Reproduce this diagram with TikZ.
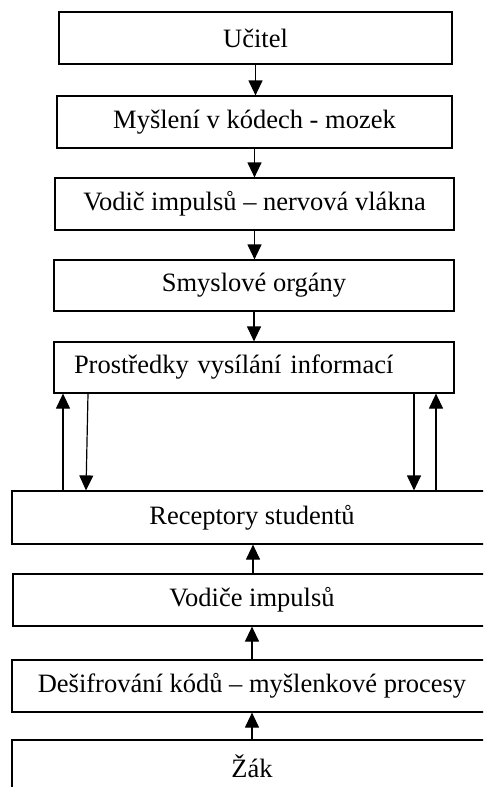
\documentclass[tikz,border=0pt]{standalone}
\usepackage{fontspec}
\setmainfont{Liberation Serif}
\usetikzlibrary{arrows.meta}

\tikzset{
  box/.style={draw, line width=1.2pt, minimum height=52pt, inner sep=0pt,
    font=\fontsize{26.5}{30}\selectfont},
  arr/.style={line width=1.2pt, -{Triangle[length=15pt,width=14pt]}}
}

\begin{document}
\begin{tikzpicture}[x=1pt,y=-1pt]
   \clip (0,0) rectangle (483,787);
   \useasboundingbox (0,0) rectangle (483,787);

   % teacher side
   \node[box, minimum width=393pt] (ucitel) at (255.5,38) {Učitel};
   \node[box, minimum width=395pt] (mozek) at (254.5,122) {Myšlení v kódech - mozek};
   \node[box, minimum width=399pt] (vodic) at (254.5,204) {Vodič impulsů – nervová vlákna};
   \node[box, minimum width=400pt, minimum height=51pt] (organy) at (254,285.5) {Smyslové orgány};
   \node[box, text width=360pt, align=left, inner xsep=20pt, minimum height=51pt]
     (prostredky) at (254,367.5) {Prostředky vysílání informací};

   % student side
   \node[box, minimum width=480pt, minimum height=53pt] (receptory) at (252,517.5) {Receptory studentů};
   \node[box, minimum width=478pt] (vodice) at (252,600) {Vodiče impulsů};
   \node[box, minimum width=480pt] (desifr) at (252,686) {Dešifrování kódů – myšlenkové procesy};
   \node[box, minimum width=480pt] (zak) at (252,766) {Žák};

   \draw[arr] (ucitel.south) -- (ucitel.south |- mozek.north);
   \draw[arr] (mozek.south) -- (mozek.south |- vodic.north);
   \draw[arr] (vodic.south) -- (vodic.south |- organy.north);
   \draw[arr] (organy.south) -- (organy.south |- prostredky.north);

   \coordinate (lu) at (63,0);
   \coordinate (ld) at (86,0);
   \coordinate (rd) at (414,0);
   \coordinate (ru) at (436,0);
   \draw[arr] (receptory.north -| lu) -- (prostredky.south -| lu);
   \draw[arr] ([xshift=2pt]prostredky.south -| ld) -- (receptory.north -| ld);
   \draw[arr] (prostredky.south -| rd) -- (receptory.north -| rd);
   \draw[arr] (receptory.north -| ru) -- (prostredky.south -| ru);

   \draw[arr] (vodice.north -| 253,0) -- (receptory.south -| 253,0);
   \draw[arr] (desifr.north -| 252,0) -- (vodice.south -| 252,0);
   \draw[arr] (zak.north -| 252,0) -- (desifr.south -| 252,0);
 \end{tikzpicture}
\end{document}
